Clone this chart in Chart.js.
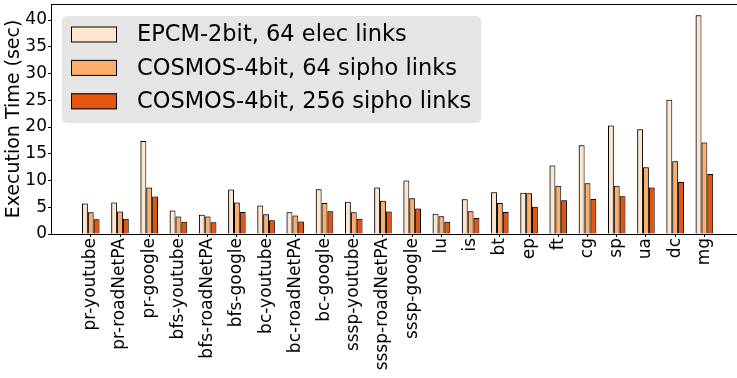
<!DOCTYPE html>
<html>
<head>
<meta charset="utf-8">
<script src="https://cdn.jsdelivr.net/npm/chart.js@4.4.0/dist/chart.umd.min.js"></script>
<style>
  html, body { margin: 0; padding: 0; background: #fff; }
  #wrap { width: 737px; height: 378px; }
</style>
</head>
<body>
<div id="wrap"><canvas id="timeChart" width="737" height="378"></canvas></div>
<script>
// benchmark names along the x axis
const benchmarks = [
  'pr-youtube', 'pr-roadNetPA', 'pr-google', 'bfs-youtube', 'bfs-roadNetPA', 'bfs-google',
  'bc-youtube', 'bc-roadNetPA', 'bc-google', 'sssp-youtube', 'sssp-roadNetPA', 'sssp-google',
  'lu', 'is', 'bt', 'ep', 'ft', 'cg', 'sp', 'ua', 'dc', 'mg'
];

// execution time (sec)
const epcm2bit64Elec = [5.7, 5.9, 17.4, 4.4, 3.6, 8.3, 5.35, 4.05, 8.35, 6.05, 8.7, 10.0, 3.8, 6.5, 7.8, 7.7, 12.8, 16.6, 20.3, 19.6, 25.1, 40.9];
const cosmos4bit64Sipho = [4.05, 4.2, 8.7, 3.25, 3.25, 5.9, 3.7, 3.45, 5.8, 4.05, 6.2, 6.7, 3.3, 4.25, 5.8, 7.6, 9.0, 9.5, 9.0, 12.5, 13.6, 17.1];
const cosmos4bit256Sipho = [2.75, 2.85, 7.0, 2.3, 2.2, 4.1, 2.55, 2.35, 4.25, 2.85, 4.2, 4.75, 2.3, 3.0, 4.1, 5.1, 6.3, 6.55, 7.05, 8.7, 9.7, 11.2];

const seriesNames = ['EPCM-2bit, 64 elec links', 'COSMOS-4bit, 64 sipho links', 'COSMOS-4bit, 256 sipho links'];
const seriesColors = ['#fee6ce', '#fdae6b', '#e6550d'];
const yTicks = [0, 5, 10, 15, 20, 25, 30, 35, 40];

const FONT = "'DejaVu Sans', 'Liberation Sans', sans-serif";

function toPoints(values) {
  return values.map((v, i) => ({ x: i, y: v }));
}

// grey offset behind the bars
const barShadow = {
  id: 'barShadow',
  beforeDatasetsDraw(chart) {
    const c = chart.ctx;
    c.save();
    c.shadowColor = 'rgba(0,0,0,0.45)';
    c.shadowOffsetX = -1;
    c.shadowOffsetY = 0;
    c.shadowBlur = 0;
  },
  afterDatasetsDraw(chart) {
    chart.ctx.restore();
  }
};

// legend in a grey rounded box inside the plot
const legendBox = {
  id: 'legendBox',
  afterDatasetsDraw(chart) {
    const { ctx, chartArea } = chart;
    const x0 = chartArea.left + 11;
    const y0 = chartArea.top + 12;
    ctx.save();
    ctx.font = '22.5px ' + FONT;
    const textW = Math.max(...chart.data.datasets.map(d => ctx.measureText(d.label).width));
    const w = 75 + textW + 10;
    const h = 107;
    ctx.fillStyle = '#e5e5e5';
    ctx.beginPath();
    if (ctx.roundRect) ctx.roundRect(x0, y0, w, h, 5);
    else ctx.rect(x0, y0, w, h);
    ctx.fill();
    chart.data.datasets.forEach((d, i) => {
      const cy = y0 + 18.5 + i * 33.4;
      ctx.fillStyle = d.backgroundColor;
      ctx.fillRect(x0 + 9, cy - 8, 46, 16);
      ctx.strokeStyle = '#000';
      ctx.lineWidth = 1;
      ctx.strokeRect(x0 + 9.5, cy - 7.5, 45, 15);
      ctx.fillStyle = '#000';
      ctx.textBaseline = 'middle';
      ctx.textAlign = 'left';
      ctx.fillText(d.label, x0 + 75, cy + 1);
    });
    ctx.restore();
  }
};

// top spine
const topSpine = {
  id: 'topSpine',
  afterDraw(chart) {
    const { ctx, chartArea } = chart;
    ctx.save();
    ctx.strokeStyle = '#000';
    ctx.lineWidth = 1;
    ctx.beginPath();
    ctx.moveTo(chartArea.left, Math.round(chartArea.top) + 0.5);
    ctx.lineTo(chartArea.right, Math.round(chartArea.top) + 0.5);
    ctx.stroke();
    ctx.restore();
  }
};

const ctx = document.getElementById('timeChart').getContext('2d');
new Chart(ctx, {
  type: 'bar',
  data: {
    datasets: [
      { label: seriesNames[0], data: toPoints(epcm2bit64Elec), backgroundColor: seriesColors[0] },
      { label: seriesNames[1], data: toPoints(cosmos4bit64Sipho), backgroundColor: seriesColors[1] },
      { label: seriesNames[2], data: toPoints(cosmos4bit256Sipho), backgroundColor: seriesColors[2] }
    ]
  },
  options: {
    responsive: false,
    animation: false,
    devicePixelRatio: 1,
    layout: { padding: { top: 4, right: 0, bottom: 0, left: 0 } },
    datasets: {
      bar: {
        borderColor: '#000',
        borderWidth: 1,
        categoryPercentage: 0.6,
        barPercentage: 1.0
      }
    },
    plugins: {
      legend: { display: false },
      tooltip: { enabled: false }
    },
    scales: {
      x: {
        type: 'linear',
        offset: false,
        min: -1.362,
        max: 22.115,
        grid: { offset: false, drawOnChartArea: false, drawTicks: true, tickLength: 3, color: '#000' },
        border: { display: true, color: '#000', width: 1 },
        ticks: {
          autoSkip: false,
          minRotation: 90,
          maxRotation: 90,
          padding: 1,
          color: '#000',
          font: { family: FONT, size: 17 },
          callback: v => benchmarks[v]
        },
        afterBuildTicks: scale => {
          scale.ticks = benchmarks.map((_, i) => ({ value: i }));
        },
        afterFit: scale => {
          scale.height = 144;
          scale.paddingLeft = 0;
          scale.paddingRight = 0;
        }
      },
      y: {
        min: 0,
        max: 43,
        grid: { drawOnChartArea: false, drawTicks: true, tickLength: 3, color: '#000' },
        border: { display: true, color: '#000', width: 1 },
        ticks: {
          padding: 1,
          color: '#000',
          font: { family: FONT, size: 17 }
        },
        afterBuildTicks: scale => {
          scale.ticks = yTicks.map(v => ({ value: v }));
        },
        title: {
          display: true,
          text: 'Execution Time (sec)',
          color: '#000',
          font: { family: FONT, size: 19 },
          padding: { top: 3, bottom: 0 }
        },
        afterFit: scale => {
          scale.width = 51;
          scale.paddingTop = 0;
          scale.paddingBottom = 0;
        }
      }
    }
  },
  plugins: [barShadow, legendBox, topSpine]
});
</script>
</body>
</html>
